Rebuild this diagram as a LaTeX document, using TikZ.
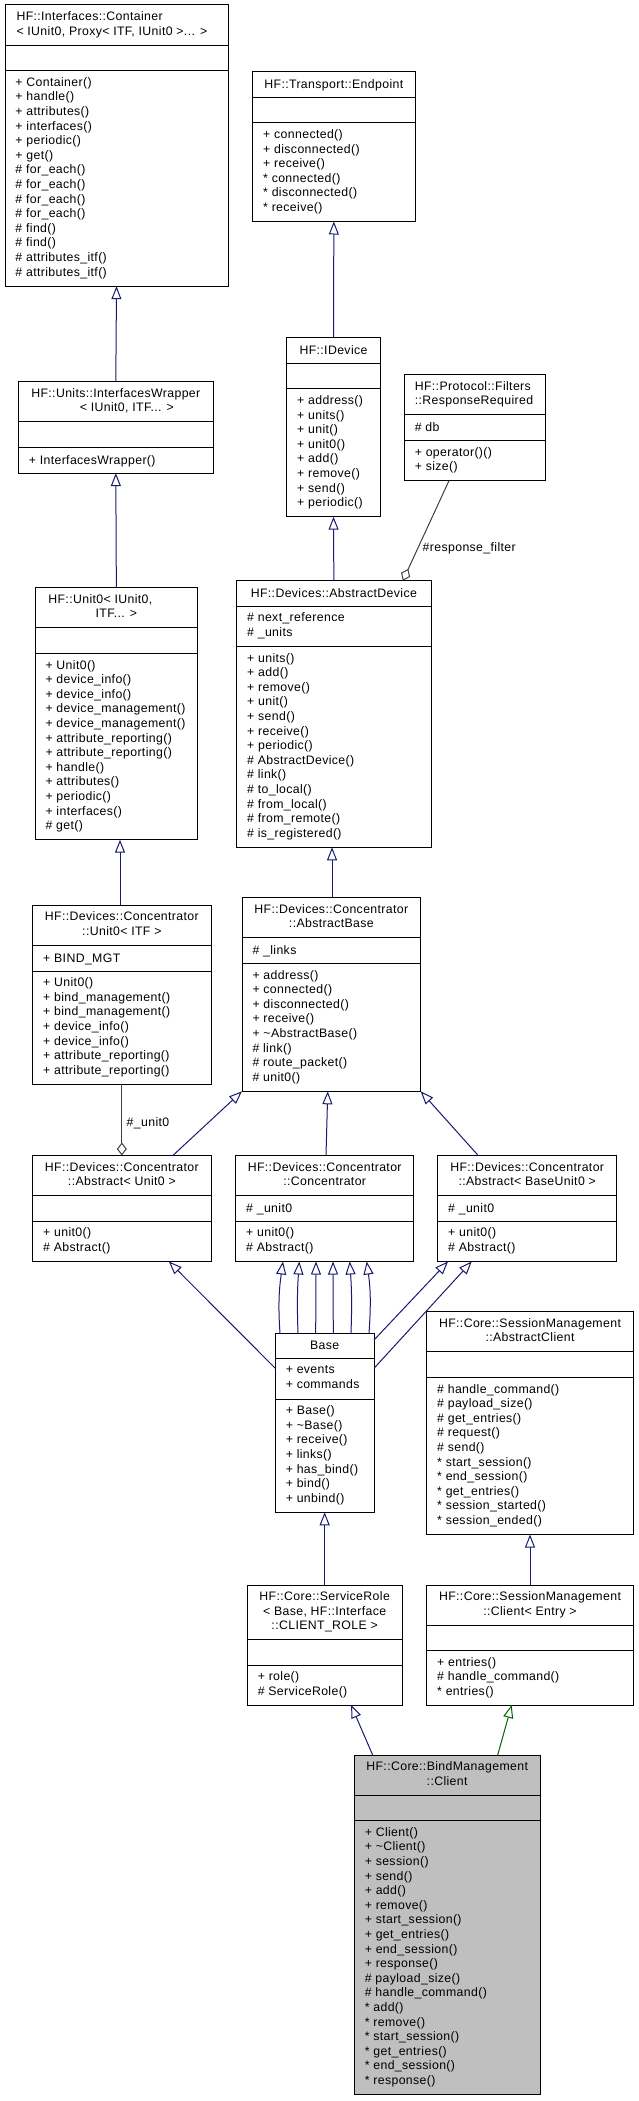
\documentclass[tikz,border=0pt]{standalone}
\usepackage{fontspec}
\setmainfont{Liberation Sans}[LetterSpace=3]
\usetikzlibrary{arrows.meta}
\definecolor{edgeblue}{HTML}{191970}
\definecolor{edgegray}{HTML}{404040}
\definecolor{edgegreen}{HTML}{006400}
\definecolor{boxgray}{HTML}{BFBFBF}
\newcommand\mystrut{\rule[-3.5pt]{0pt}{14.6pt}}
\tikzset{
  classbox/.style={draw=black, line width=1pt, fill=white, rectangle, inner sep=0pt, outer sep=0pt},
  sepline/.style={draw=black, line width=1pt},
  txt/.style={inner sep=0pt, outer sep=0pt, font=\fontsize{12.3}{14.6}\selectfont,
    execute at begin node={\lineskiplimit=-100pt\mystrut}, execute at end node={\mystrut}},
  members/.style={txt, anchor=west, align=left},
  ctitle/.style={txt, anchor=center, align=center},
  ltitle/.style={txt, anchor=west, align=left},
  lbl/.style={txt, anchor=west},
  inh/.style={draw=edgeblue, line width=1pt, -{Triangle[length=13pt,width=10pt,fill=white]}},
  inhg/.style={draw=edgegreen, line width=1pt, -{Triangle[length=13pt,width=10pt,fill=white]}},
  aggr/.style={draw=edgegray, line width=1pt, -{Diamond[length=13pt,width=10pt,fill=white]}},
}
% #1 style, #2 name, #3 x1, #4 x2, #5 top, #6 sep1, #7 sep2, #8 bottom
\newcommand\umlbox[8][]{%
  \node[classbox,#1,minimum width={(#4)-(#3)},minimum height={(#8)-(#5)}] (#2) at ({((#3)+(#4))/2},{((#5)+(#8))/2}) {};
  \draw[sepline] (#3,#6) -- (#4,#6);
  \draw[sepline] (#3,#7) -- (#4,#7);
  \coordinate (#2-t) at ({((#3)+(#4))/2},{((#5)+(#6))/2});
  \coordinate (#2-tl) at ({(#3)+10.5},{((#5)+(#6))/2});
  \coordinate (#2-a) at ({(#3)+10.5},{((#6)+(#7))/2});
  \coordinate (#2-m) at ({(#3)+10.5},{((#7)+(#8))/2});
}
\begin{document}
\begin{tikzpicture}[x=1pt,y=-1pt]
\useasboundingbox (0,0) rectangle (639,2101);
\fill[white] (0,0) rectangle (639,2101);

% ---------- boxes ----------
\umlbox{cont}{5}{228}{5}{45.2}{70.8}{286.2}
\node[ltitle] (cont-title) at ([xshift=1pt]cont-tl) {HF::Interfaces::Container\\< IUnit0, Proxy< ITF, IUnit0 >... >};
\node[members] (cont-mem) at (cont-m) {+ Container()\\+ handle()\\+ attributes()\\+ interfaces()\\+ periodic()\\+ get()\\\# for\_each()\\\# for\_each()\\\# for\_each()\\\# for\_each()\\\# find()\\\# find()\\\# attributes\_itf()\\\# attributes\_itf()};

\umlbox{endpoint}{252.7}{415}{71.7}{97.3}{122.9}{221.5}
\node[ctitle] (endpoint-title) at (endpoint-t) {HF::Transport::Endpoint};
\node[members] (endpoint-mem) at (endpoint-m) {+ connected()\\+ disconnected()\\+ receive()\\* connected()\\* disconnected()\\* receive()};

\umlbox{idevice}{286.7}{380.3}{337.7}{363.3}{388.9}{516.7}
\node[ctitle] (idevice-title) at (idevice-t) {HF::IDevice};
\node[members] (idevice-mem) at (idevice-m) {+ address()\\+ units()\\+ unit()\\+ unit0()\\+ add()\\+ remove()\\+ send()\\+ periodic()};

\umlbox{respreq}{404.3}{545.7}{374.7}{414.9}{440.5}{480.7}
\node[ltitle] (respreq-title) at (respreq-tl) {HF::Protocol::Filters\\::ResponseRequired};
\node[members] (respreq-att) at (respreq-a) {\# db};
\node[members] (respreq-mem) at (respreq-m) {+ operator()()\\+ size()};

\umlbox{iw}{18.3}{213.3}{381.7}{421.9}{447.5}{473.1}
\node[ctitle] (iw-title) at (iw-t) {HF::Units::InterfacesWrapper\\\hspace*{22pt}< IUnit0, ITF... >};
\node[members] (iw-mem) at (iw-m) {+ InterfacesWrapper()};

\umlbox{unit0}{35}{197.7}{587.7}{627.9}{653.5}{839.7}
\node[ctitle] (unit0-title) at (unit0-t) {HF::Unit0< IUnit0,\hspace*{32pt}\\ITF... >};
\node[members] (unit0-mem) at (unit0-m) {+ Unit0()\\+ device\_info()\\+ device\_info()\\+ device\_management()\\+ device\_management()\\+ attribute\_reporting()\\+ attribute\_reporting()\\+ handle()\\+ attributes()\\+ periodic()\\+ interfaces()\\\# get()};

\umlbox{absdev}{236.7}{431}{580.7}{606.3}{646.5}{847.3}
\node[ctitle] (absdev-title) at (absdev-t) {HF::Devices::AbstractDevice};
\node[members] (absdev-att) at (absdev-a) {\# next\_reference\\\# \_units};
\node[members] (absdev-mem) at (absdev-m) {+ units()\\+ add()\\+ remove()\\+ unit()\\+ send()\\+ receive()\\+ periodic()\\\# AbstractDevice()\\\# link()\\\# to\_local()\\\# from\_local()\\\# from\_remote()\\\# is\_registered()};

\umlbox{cunit0}{32.7}{211}{905.3}{945.5}{971.1}{1084.3}
\node[ctitle] (cunit0-title) at (cunit0-t) {HF::Devices::Concentrator\\::Unit0< ITF >};
\node[members] (cunit0-att) at (cunit0-a) {+ BIND\_MGT};
\node[members] (cunit0-mem) at (cunit0-m) {+ Unit0()\\+ bind\_management()\\+ bind\_management()\\+ device\_info()\\+ device\_info()\\+ attribute\_reporting()\\+ attribute\_reporting()};

\umlbox{absbase}{242}{420.7}{897.7}{937.9}{963.5}{1091.3}
\node[ctitle] (absbase-title) at (absbase-t) {HF::Devices::Concentrator\\::AbstractBase};
\node[members] (absbase-att) at (absbase-a) {\# \_links};
\node[members] (absbase-mem) at (absbase-m) {+ address()\\+ connected()\\+ disconnected()\\+ receive()\\+ \textasciitilde AbstractBase()\\\# link()\\\# route\_packet()\\\# unit0()};

\umlbox{absu0}{32.7}{211}{1155.5}{1195.7}{1221.3}{1261.5}
\node[ctitle] (absu0-title) at (absu0-t) {HF::Devices::Concentrator\\::Abstract< Unit0 >};
\node[members] (absu0-mem) at (absu0-m) {+ unit0()\\\# Abstract()};

\umlbox{conc}{235.7}{413.7}{1155.5}{1195.7}{1221.3}{1261.5}
\node[ctitle] (conc-title) at (conc-t) {HF::Devices::Concentrator\\::Concentrator};
\node[members] (conc-att) at (conc-a) {\# \_unit0};
\node[members] (conc-mem) at (conc-m) {+ unit0()\\\# Abstract()};

\umlbox{absbu0}{437.7}{616.7}{1155.5}{1195.7}{1221.3}{1261.5}
\node[ctitle] (absbu0-title) at (absbu0-t) {HF::Devices::Concentrator\\::Abstract< BaseUnit0 >};
\node[members] (absbu0-att) at (absbu0-a) {\# \_unit0};
\node[members] (absbu0-mem) at (absbu0-m) {+ unit0()\\\# Abstract()};

\umlbox{base}{275.3}{374}{1333.3}{1358.9}{1399.1}{1512.3}
\node[ctitle] (base-title) at (base-t) {Base};
\node[members] (base-att) at (base-a) {+ events\\+ commands};
\node[members] (base-mem) at (base-m) {+ Base()\\+ \textasciitilde Base()\\+ receive()\\+ links()\\+ has\_bind()\\+ bind()\\+ unbind()};

\umlbox{absclient}{426.7}{633.3}{1311.7}{1351.9}{1377.5}{1534.5}
\node[ctitle] (absclient-title) at (absclient-t) {HF::Core::SessionManagement\\::AbstractClient};
\node[members] (absclient-mem) at (absclient-m) {\# handle\_command()\\\# payload\_size()\\\# get\_entries()\\\# request()\\\# send()\\* start\_session()\\* end\_session()\\* get\_entries()\\* session\_started()\\* session\_ended()};

\umlbox{smclient}{426.7}{633.3}{1585}{1625.2}{1650.8}{1705}
\node[ctitle] (smclient-title) at (smclient-t) {HF::Core::SessionManagement\\::Client< Entry >};
\node[members] (smclient-mem) at (smclient-m) {+ entries()\\\# handle\_command()\\* entries()};

\umlbox{srole}{247.3}{402}{1585}{1639.8}{1665}{1705}
\node[ctitle] (srole-title) at (srole-t) {HF::Core::ServiceRole\\< Base, HF::Interface\\::CLIENT\_ROLE >};
\node[members] (srole-mem) at (srole-m) {+ role()\\\# ServiceRole()};

\umlbox[fill=boxgray]{bindclient}{354.3}{540}{1755}{1795.2}{1820.8}{2094.6}
\node[ctitle] (bindclient-title) at (bindclient-t) {HF::Core::BindManagement\\::Client};
\node[members] (bindclient-mem) at (bindclient-m) {+ Client()\\+ \textasciitilde Client()\\+ session()\\+ send()\\+ add()\\+ remove()\\+ start\_session()\\+ get\_entries()\\+ end\_session()\\+ response()\\\# payload\_size()\\\# handle\_command()\\* add()\\* remove()\\* start\_session()\\* get\_entries()\\* end\_session()\\* response()};

% ---------- connectors ----------
\draw[inh] (iw.north) -- (cont.south);
\draw[inh] (unit0.north) -- (iw.south);
\draw[inh] (idevice.north) -- (endpoint.south);
\draw[inh] (absdev.north) -- (idevice.south);
\draw[inh] ([xshift=0.7pt]absbase.north) -- ([xshift=-1.8pt]absdev.south);
\draw[inh] ([xshift=-1.85pt]cunit0.north) -- ([xshift=3.65pt]unit0.south);
\draw[aggr] ([xshift=-26pt]respreq.south) -- ([xshift=69pt]absdev.north);
\node[lbl] (lbl-rf) at (422.7,548) {\#response\_filter};
\draw[aggr] (cunit0.south) -- (absu0.north);
\node[lbl] (lbl-u0) at (126.7,1122.7) {\#\_unit0};
\draw[inh] ([xshift=51pt]absu0.north) -- (absbase.south west);
\draw[inh] ([xshift=1.3pt]conc.north) -- ([xshift=-3.6pt]absbase.south);
\draw[inh] ([xshift=-49pt]absbu0.north) -- (absbase.south east);
\draw[inh] ([yshift=-35pt]base.north west) -- ([xshift=47pt]absu0.south);
\draw[inh] ([xshift=-44.65pt]base.north) to[out=94,in=262] ([xshift=-41.7pt]conc.south);
\draw[inh] ([xshift=-26.65pt]base.north) to[out=92,in=266] ([xshift=-25.4pt]conc.south);
\draw[inh] ([xshift=-8.95pt]base.north) -- ([xshift=-8.7pt]conc.south);
\draw[inh] ([xshift=8.65pt]base.north) -- ([xshift=8.3pt]conc.south);
\draw[inh] ([xshift=26.35pt]base.north) to[out=88,in=274] ([xshift=25pt]conc.south);
\draw[inh] ([xshift=44.35pt]base.north) to[out=86,in=278] ([xshift=42pt]conc.south);
\draw[inh] ([yshift=-6.7pt]base.north east) -- ([xshift=-79.2pt]absbu0.south);
\draw[inh] ([yshift=-35pt]base.north east) -- ([xshift=-55.5pt]absbu0.south);
\draw[inh] (srole.north) -- (base.south);
\draw[inh] ([xshift=-74.5pt]bindclient.north) -- ([xshift=26.4pt]srole.south);
\draw[inh] (smclient.north) -- (absclient.south);
\draw[inhg] ([xshift=50.5pt]bindclient.north) -- ([xshift=-18.3pt]smclient.south);
\end{tikzpicture}
\end{document}
